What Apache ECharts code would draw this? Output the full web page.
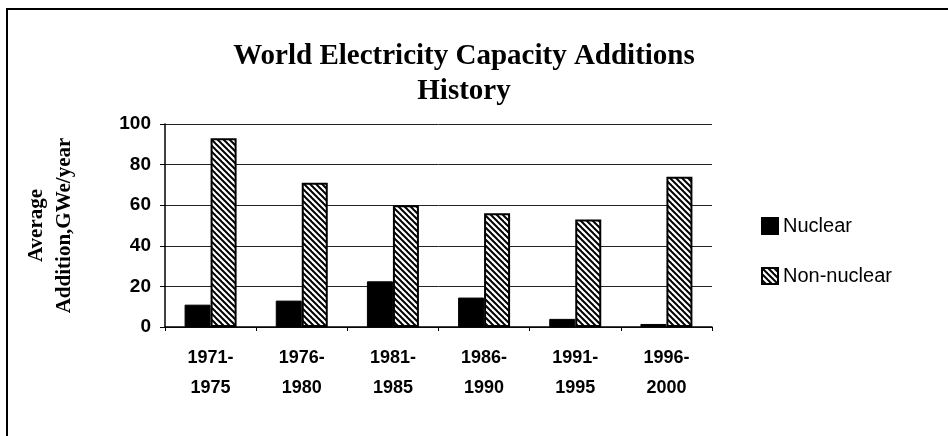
<!DOCTYPE html>
<html>
<head>
<meta charset="utf-8">
<script src="https://cdn.jsdelivr.net/npm/echarts@6/dist/echarts.min.js"></script>
<style>
  html, body { margin: 0; padding: 0; background: #fff; }
  #chart { width: 948px; height: 436px; }
</style>
</head>
<body>
<div id="chart"></div>
<script>
var categories = ['1971-\n1975', '1976-\n1980', '1981-\n1985', '1986-\n1990', '1991-\n1995', '1996-\n2000'];
var nuclear = [11, 13, 22.5, 14.5, 4, 1.5];
var nonNuclear = [93, 71, 60, 56, 53, 74];
var yTicks = [0, 20, 40, 60, 80, 100];

// diagonal hatch used for the non-nuclear bars
function hatch() {
    var c = document.createElement('canvas');
    c.width = 6;
    c.height = 6;
    var ctx = c.getContext('2d');
    ctx.fillStyle = '#fff';
    ctx.fillRect(0, 0, 6, 6);
    ctx.strokeStyle = '#000';
    ctx.lineWidth = 2;
    for (var k = -1; k <= 1; k++) {
        ctx.beginPath();
        ctx.moveTo(k * 6 - 1, -1);
        ctx.lineTo(k * 6 + 7, 7);
        ctx.stroke();
    }
    return c;
}

var myChart = echarts.init(document.getElementById('chart'));
myChart.setOption({
    animation: false,
    backgroundColor: '#fff',
    legend: {
        orient: 'vertical',
        left: 761,
        top: 216,
        padding: 0,
        icon: 'rect',
        itemWidth: 16,
        itemHeight: 16,
        itemGap: 30,
        textStyle: {
            fontFamily: 'Liberation Sans',
            fontSize: 20,
            color: '#000'
        },
        data: ['Nuclear', 'Non-nuclear']
    },
    graphic: [{
        type: 'rect',
        shape: { x: 7, y: 9, width: 1200, height: 800 },
        style: { fill: 'none', stroke: '#000', lineWidth: 2 }
    }, {
        type: 'text',
        x: 464,
        y: 39,
        style: {
            text: 'World Electricity Capacity Additions\nHistory',
            textAlign: 'center',
            fontFamily: 'Liberation Serif',
            fontWeight: 'bold',
            fontSize: 29,
            lineHeight: 35,
            fill: '#000'
        }
    }],
    grid: {
        left: 165,
        right: 236,
        top: 124,
        bottom: 109,
        outerBoundsMode: 'none'
    },
    xAxis: {
        type: 'category',
        data: categories,
        axisLine: { lineStyle: { color: '#000', width: 1.5 } },
        axisTick: { show: true, length: 4, lineStyle: { color: '#000' } },
        axisLabel: {
            margin: 16,
            fontFamily: 'Liberation Sans',
            fontWeight: 'bold',
            fontSize: 18,
            lineHeight: 30,
            color: '#000'
        }
    },
    yAxis: {
        type: 'value',
        min: yTicks[0],
        max: yTicks[yTicks.length - 1],
        interval: 20,
        name: 'Average\nAddition,GWe/year',
        nameLocation: 'middle',
        nameRotate: 90,
        nameGap: 86,
        nameMoveOverlap: false,
        nameTextStyle: {
            fontFamily: 'Liberation Serif',
            fontWeight: 'bold',
            fontSize: 21,
            lineHeight: 28,
            color: '#000'
        },
        axisLine: { show: true, lineStyle: { color: '#000', width: 1.5 } },
        axisTick: { show: true, length: 5, lineStyle: { color: '#000' } },
        axisLabel: {
            margin: 14,
            fontFamily: 'Liberation Sans',
            fontWeight: 'bold',
            fontSize: 19,
            color: '#000'
        },
        splitLine: { lineStyle: { color: '#222', width: 1 } }
    },
    series: [{
        name: 'Nuclear',
        type: 'bar',
        data: nuclear,
        barWidth: 26,
        barGap: '0%',
        itemStyle: { color: '#000', borderColor: '#000', borderWidth: 1 }
    }, {
        name: 'Non-nuclear',
        type: 'bar',
        data: nonNuclear,
        barWidth: 26,
        barGap: '0%',
        itemStyle: {
            color: { image: hatch(), repeat: 'repeat' },
            borderColor: '#000',
            borderWidth: 2
        }
    }]
});
</script>
</body>
</html>
